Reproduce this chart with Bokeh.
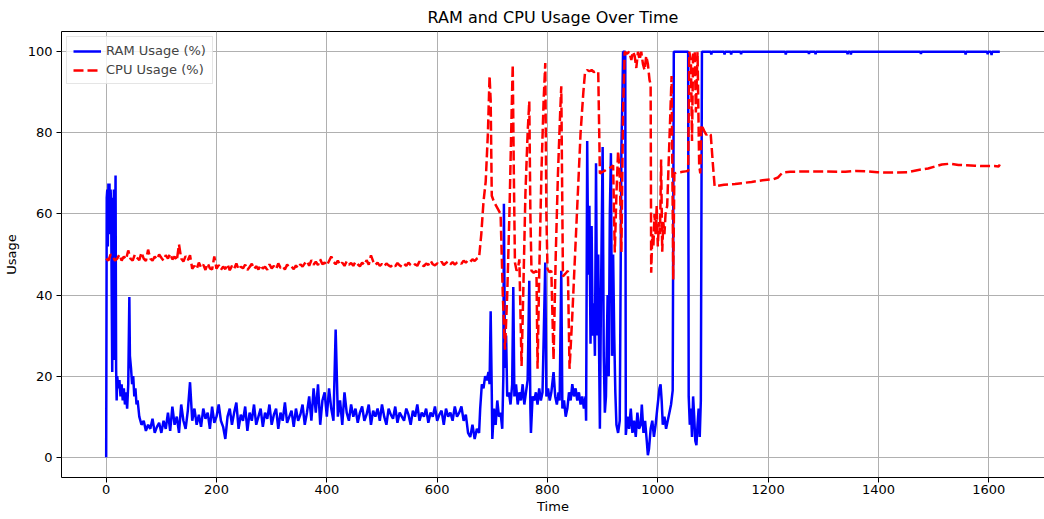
from bokeh.plotting import figure
from bokeh.models import Range1d, Legend, LegendItem, FixedTicker
from bokeh.embed import file_html
from bokeh.resources import INLINE

# ---------------- data ----------------
ram_noise_start = 60
ram_noise_step = 4
ram_noise = [
    10, 8, 9, 6.5, 8, 7, 9.5, 6, 7.5, 8.5,
    6, 9, 7, 11, 6.5, 12.5, 8, 10, 6, 13,
    9, 7, 11.5, 18.5, 9, 12, 8, 10.5, 7.5, 12,
    9.5, 11, 7, 12.5, 8.5, 10, 13, 9, 7.5, 4.5,
    10, 12, 8, 11, 13.5, 7, 10.5, 9, 12.5, 6.5,
    11, 9, 13, 8, 10, 12, 7.5, 11, 9.5, 13,
    8, 10.5, 12, 7, 11, 9, 13.5, 8.5, 10, 11.5,
    7.5, 12, 9, 10.5, 13, 8, 11, 15, 9, 17,
    11, 18, 8, 14, 16, 10, 17, 12, 9, 31.5,
    10, 14, 8, 16, 11, 9, 13, 10, 12, 8.5,
    11, 12.5, 9, 10.5, 13, 8, 11.5, 10, 12, 9,
    13, 10, 8, 12, 10.5, 9.5, 12.5, 8.5, 11, 10,
    9, 12, 10.5, 8, 11.5, 10, 13, 9, 11, 10,
    12, 8.5, 11, 10, 12.5, 9, 10.5, 11.5, 8, 12,
    10, 11, 9, 12.5, 10, 11, 12.5, 9, 10.5, 6,
    5, 8, 4.5, 7, 6,
]

ram_head_t = [0, 1, 2, 3, 4, 5, 6, 7, 8, 9, 10, 11, 12, 13, 14, 15, 16, 17, 18, 19,
              20, 22, 24, 26, 28, 30, 32, 34, 36, 38, 40, 42, 43, 45, 47, 49, 51, 53, 55, 57]
ram_head_v = [0, 64, 66, 52, 67.5, 60, 67.5, 55, 66, 62, 40, 21, 64, 30, 66, 24, 52, 69.5, 22, 14,
              20, 17, 19, 15, 18, 14, 17, 13, 16, 12, 18, 39.5, 25, 22, 18, 20, 15, 17, 13, 14]

ram_tail_t = [678, 681, 684, 687, 690, 693, 695, 697, 699, 700, 703, 706, 709, 712, 715, 718, 720, 721,
              723, 725, 727, 730, 733, 736, 738, 740, 743, 746, 749, 752, 755, 758, 761, 764, 767, 769,
              770, 773, 776, 779, 782, 785, 788, 791, 796, 798, 801, 804, 807, 811, 814, 817, 820, 822,
              825, 827, 830, 833, 836, 839, 842, 845, 848, 851, 854, 857, 860, 863, 866, 869, 870, 872,
              874, 876, 878, 880, 882, 884, 886, 888, 890, 892, 894, 895, 897, 900, 902, 904, 906, 909,
              911, 913, 915, 917, 919, 921, 923, 925, 928, 931, 934, 936, 937, 939, 941, 942, 945, 948,
              951, 954, 957, 960, 963, 966, 969, 971, 974, 977, 980, 982, 984, 987, 990, 993, 996, 999,
              1003, 1005, 1007, 1009, 1012, 1015, 1018, 1021, 1024, 1027, 1029, 1035, 1045, 1055, 1056,
              1058, 1060, 1062, 1064, 1066, 1068, 1070, 1072, 1074, 1076, 1078, 1080,
              1096, 1097, 1098, 1120, 1121, 1122, 1132, 1133, 1134, 1150, 1151, 1152,
              1231, 1232, 1233, 1273, 1274, 1275, 1285, 1286, 1287, 1343, 1344, 1345,
              1349, 1350, 1351, 1476, 1477, 1478, 1557, 1558, 1559, 1597, 1598, 1599,
              1604, 1605, 1606, 1620]
ram_tail_v = [12, 18, 17, 20, 19, 21, 18, 36, 16, 4.5, 12, 8, 14, 10, 11, 7, 20, 62.5,
              22, 30, 15, 16, 13, 18, 42, 15, 18, 13, 16, 14, 18, 13, 16, 19, 43.5, 12,
              6, 15, 14, 16, 13, 17, 14, 16, 48, 15, 17, 14, 16, 21, 15, 13, 16, 14,
              46, 12, 14, 10, 12, 16, 14, 18, 15, 17, 14, 16, 13, 15, 12, 15, 9, 78,
              45, 62, 28, 57, 30, 38, 25, 72.5, 30, 50, 20, 7, 40, 76.5, 25, 11, 15, 40,
              20, 60, 75, 25, 50, 30, 16, 8, 6, 9, 76, 90, 100, 100, 100, 5.5, 10, 7,
              12, 6, 9, 5, 11, 7, 8, 13, 6, 9, 4, 0.5, 2, 7, 9, 5, 8, 12,
              17, 18, 14, 8, 10, 7, 9, 11, 13, 16.5, 100, 100, 100, 100, 15,
              8, 12, 5, 15, 10, 4, 3, 8, 12, 5, 14, 100,
              100, 99.3, 100, 100, 99.3, 100, 100, 99.3, 100, 100, 99.4, 100,
              100, 99.3, 100, 100, 99.5, 100, 100, 99.4, 100, 100, 99.4, 100,
              100, 99.3, 100, 100, 99.5, 100, 100, 99.3, 100, 100, 99.4, 100,
              100, 99.2, 100, 100]

cpu_noise_start = 0
cpu_noise_step = 4
cpu_noise = [
    49, 48.5, 50, 49.5, 48.5, 49, 50, 48.5, 49.5, 48.8,
    51, 49, 48.5, 50, 49.2, 48.6, 50.5, 49, 48.4, 51.2,
    49, 48.5, 49.5, 48.8, 50, 49.2, 48.5, 49.8, 49, 50.2,
    48.8, 49.5, 48.5, 52.5, 49, 48.3, 49.6, 48.6, 49.8, 46.5,
    47.2, 46.4, 48, 46.8, 47.5, 46.2, 47.8, 46.6, 46.3, 49.5,
    46.5, 47.4, 46.2, 47, 46.4, 47.6, 46.1, 47.2, 46.5, 47.8,
    46.3, 47, 46.6, 47.5, 46.2, 46.9, 47.7, 46.4, 47.1, 46.3,
    47.4, 46.5, 47, 46.2, 47.6, 46.6, 47.2, 46.4, 47.8, 46.7,
    47.1, 46.3, 47.5, 46.8, 47, 46.4, 47.3, 46.6, 47.6, 47,
    47.8, 48.4, 47.2, 48.6, 47.5, 48.2, 47.4, 48.8, 47.6, 48,
    47.3, 48.4, 49.5, 48.2, 47.6, 48.5, 47.4, 48, 47.2, 48.3,
    47.5, 47.9, 47.2, 48.2, 47.6, 47.1, 48, 47.4, 48.6, 47.5,
    49.8, 48.3, 47.4, 48, 47.2, 47.7, 47.1, 47.8, 47.3, 47,
    47.6, 47.1, 47.9, 47.3, 47, 47.7, 47.2, 48, 47.4, 47.1,
    47.6, 47.2, 48.3, 47.5, 47.1, 47.8, 47.4, 48.5, 47.6, 47.3,
    47.8, 47.5, 48.2, 47.4, 47.9, 48.3, 47.6, 48.1, 47.5, 48,
    48.2, 47.7, 48.5, 48, 48.6, 48.2, 48.8, 48.4, 49, 49.3,
]

cpu_tail_t = [680, 684, 688, 692, 695, 697, 699, 703, 707, 711, 715, 719, 723, 727, 731, 735, 737, 739,
              741, 744, 747, 749, 753, 756, 760, 764, 767, 769, 771, 775, 780, 782, 785, 789, 793, 796,
              798, 800, 804, 807, 811, 815, 819, 823, 825, 827, 828, 832, 837, 840, 845, 850, 855, 860,
              865, 868, 872, 876, 880, 884, 888, 892, 895, 899, 903, 907, 911, 915, 919, 922, 925, 928,
              931, 934, 937, 940, 944, 948, 952, 955, 958, 961, 964, 967, 970, 973, 976, 979, 982, 985,
              987, 988, 990, 992, 994, 996, 998, 1000, 1002, 1004, 1006, 1008, 1010, 1012, 1014, 1017,
              1019, 1021, 1025, 1028, 1030, 1035, 1040, 1045, 1050, 1055, 1057, 1060, 1062, 1064,
              1067, 1069, 1072, 1075, 1077, 1079, 1084, 1088, 1092, 1096, 1100, 1103, 1120,
              1140, 1152, 1170, 1190, 1210, 1218, 1226, 1240, 1270, 1300, 1340, 1360, 1380, 1398, 1420,
              1452, 1470, 1490, 1505, 1515, 1530, 1545, 1560, 1575, 1590, 1610, 1618, 1620]
cpu_tail_v = [55, 63, 68, 80, 94, 88, 64.5, 63, 62, 61, 60, 40, 26.5, 40, 60, 85, 96.8, 70,
              48, 46, 47, 48.8, 22.5, 40, 65, 80, 87.8, 60, 46, 45.5, 46, 21.8, 45, 70, 88, 97.2,
              60, 46.4, 45.6, 46, 24, 50, 70, 85, 91.5, 60, 44.6, 45.2, 46, 21.8, 35, 50, 65, 80,
              90, 94.8, 95.5, 95.2, 95.5, 95, 95.3, 95, 70, 70.3, 70.6, 71, 71.2, 71.5, 72, 50.5, 65, 75.5,
              70, 50.7, 85, 100, 99.5, 100, 98, 100, 99, 96, 100, 98, 100, 97, 95.5, 99, 97, 93,
              92, 45.5, 55, 52, 60, 55, 62, 52, 58, 55, 73.4, 50.7, 58, 55, 60, 62,
              70, 78, 94, 43.8, 70, 70.2, 70.3, 70.4, 70.5, 70.6, 100, 98, 78, 100,
              100, 85, 100, 72, 70, 82, 80.5, 79.5, 80, 79.5, 72, 66.8, 67.2,
              67.4, 67.6, 67.9, 68.3, 68.6, 69, 70.2, 70.4, 70.5, 70.5, 70.4, 70.6, 70.5, 70.3, 70.2,
              70.3, 70.8, 71.2, 71.8, 72.2, 72.4, 72.1, 72, 71.9, 71.8, 71.8, 71.7, 72.2]

x_ticks = [0, 200, 400, 600, 800, 1000, 1200, 1400, 1600]
y_ticks = [0, 20, 40, 60, 80, 100]

# ---------------- assemble series ----------------
ram_t = ram_head_t + [ram_noise_start + i * ram_noise_step for i in range(len(ram_noise))] + ram_tail_t
ram_v = ram_head_v + ram_noise + ram_tail_v
cpu_t = [cpu_noise_start + i * cpu_noise_step for i in range(len(cpu_noise))] + cpu_tail_t
cpu_v = cpu_noise + cpu_tail_v

FONT = "DejaVu Sans"

p = figure(
    frame_width=983, frame_height=446,
    x_range=Range1d(-81, 1701), y_range=Range1d(-5, 105),
    output_backend="svg", toolbar_location=None,
    title="RAM and CPU Usage Over Time",
    min_border_left=60, min_border_right=1, min_border_top=31, min_border_bottom=42,
    background_fill_color="white", border_fill_color="white",
)
p.title.align = "center"
p.title.text_font = FONT
p.title.text_font_size = "16px"
p.title.text_font_style = "normal"
p.title.text_color = "black"

p.outline_line_color = "black"
p.outline_line_width = 1
p.outline_line_alpha = 1

for ax in (p.xaxis[0], p.yaxis[0]):
    ax.axis_line_color = None
    ax.major_tick_line_color = "black"
    ax.major_tick_out = 5
    ax.major_tick_in = 0
    ax.minor_tick_line_color = None
    ax.major_label_text_font = FONT
    ax.major_label_text_font_size = "13px"
    ax.major_label_text_color = "black"
    ax.axis_label_text_font = FONT
    ax.axis_label_text_font_size = "13px"
    ax.axis_label_text_font_style = "normal"
    ax.axis_label_text_color = "black"
    ax.major_label_standoff = 2
    ax.axis_label_standoff = 2

p.yaxis[0].major_label_standoff = 4
p.yaxis[0].axis_label_standoff = 6

p.xaxis.ticker = FixedTicker(ticks=x_ticks)
p.yaxis.ticker = FixedTicker(ticks=y_ticks)
p.xaxis.axis_label = "Time"
p.yaxis.axis_label = "Usage"

p.xgrid.grid_line_color = "#b0b0b0"
p.ygrid.grid_line_color = "#b0b0b0"
p.xgrid.grid_line_width = 1
p.ygrid.grid_line_width = 1
p.xgrid.ticker = FixedTicker(ticks=x_ticks)
p.ygrid.ticker = FixedTicker(ticks=y_ticks)

r_ram = p.line(ram_t, ram_v, line_color="#0000ff", line_width=2.5)
r_cpu = p.line(cpu_t, cpu_v, line_color="#ff0000", line_width=2.5, line_dash="10 4")

legend = Legend(items=[LegendItem(label="RAM Usage (%)", renderers=[r_ram]),
                       LegendItem(label="CPU Usage (%)", renderers=[r_cpu])],
                location="top_left")
legend.label_text_font = FONT
legend.label_text_font_size = "13px"
legend.glyph_width = 28
legend.glyph_height = 14
legend.label_height = 14
legend.spacing = 4
legend.padding = 6
legend.margin = 5
legend.border_line_color = "#cccccc"
legend.border_line_width = 1
legend.background_fill_alpha = 0.8
p.add_layout(legend)

open("out.html", "w").write(file_html(p, INLINE))
